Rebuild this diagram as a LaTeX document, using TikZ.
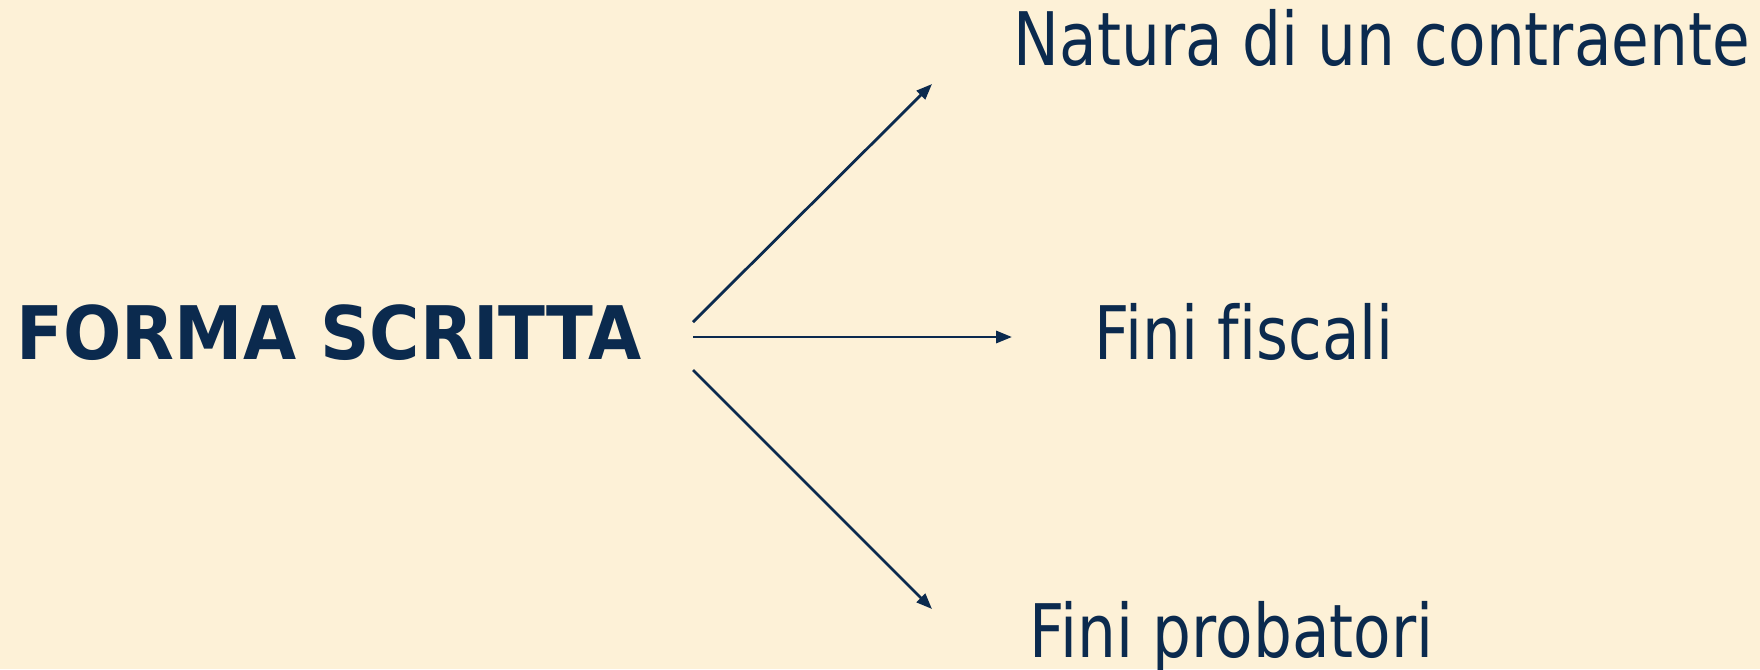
\documentclass[tikz,border=0pt]{standalone}
\usepackage{fontspec}
\setmainfont{DejaVu Sans}[FakeStretch=0.83,Ligatures=NoCommon]
\newfontfamily\headfont{DejaVu Sans}[FakeStretch=0.93,Ligatures=NoCommon]
\usetikzlibrary{arrows.meta}
\definecolor{navy}{HTML}{0B2A4E}
\definecolor{paper}{HTML}{FDF1D7}
\begin{document}
\begin{tikzpicture}[x=0.01cm,y=-0.01cm,
		label/.style={anchor=base west,inner sep=0pt,text=navy,font=\fontsize{21}{25}\selectfont},
		branch/.style={draw=navy,line width=0.8pt,-{Triangle[length=4.5pt,width=3.4pt]}}]
		% Background
		\fill[paper] (0,0) rectangle (1760,669);
		\useasboundingbox (0,0) rectangle (1760,669);
		
		% Texts
		\node[label,font=\fontsize{21}{25}\headfont\bfseries] (forma) at (16,359) {FORMA SCRITTA};
		\node[label] (natura) at (1013,65) {Natura di un contraente};
		\node[label] (fiscali) at (1094,359) {Fini fiscali};
		\node[label] (probatori) at (1029,657) {Fini probatori};
		
		% Arrow ends
		\coordinate (s1) at (693,322);
		\coordinate (e1) at (932,84);
		\coordinate (s2) at (693,337);
		\coordinate (e2) at (1012,337);
		\coordinate (s3) at (693,370);
		\coordinate (e3) at (932,609);
		
		% Arrows
		\draw[branch] (s1) -- (e1);
		\draw[branch] (s2) -- (e2);
		\draw[branch] (s3) -- (e3);
	\end{tikzpicture}
\end{document}
